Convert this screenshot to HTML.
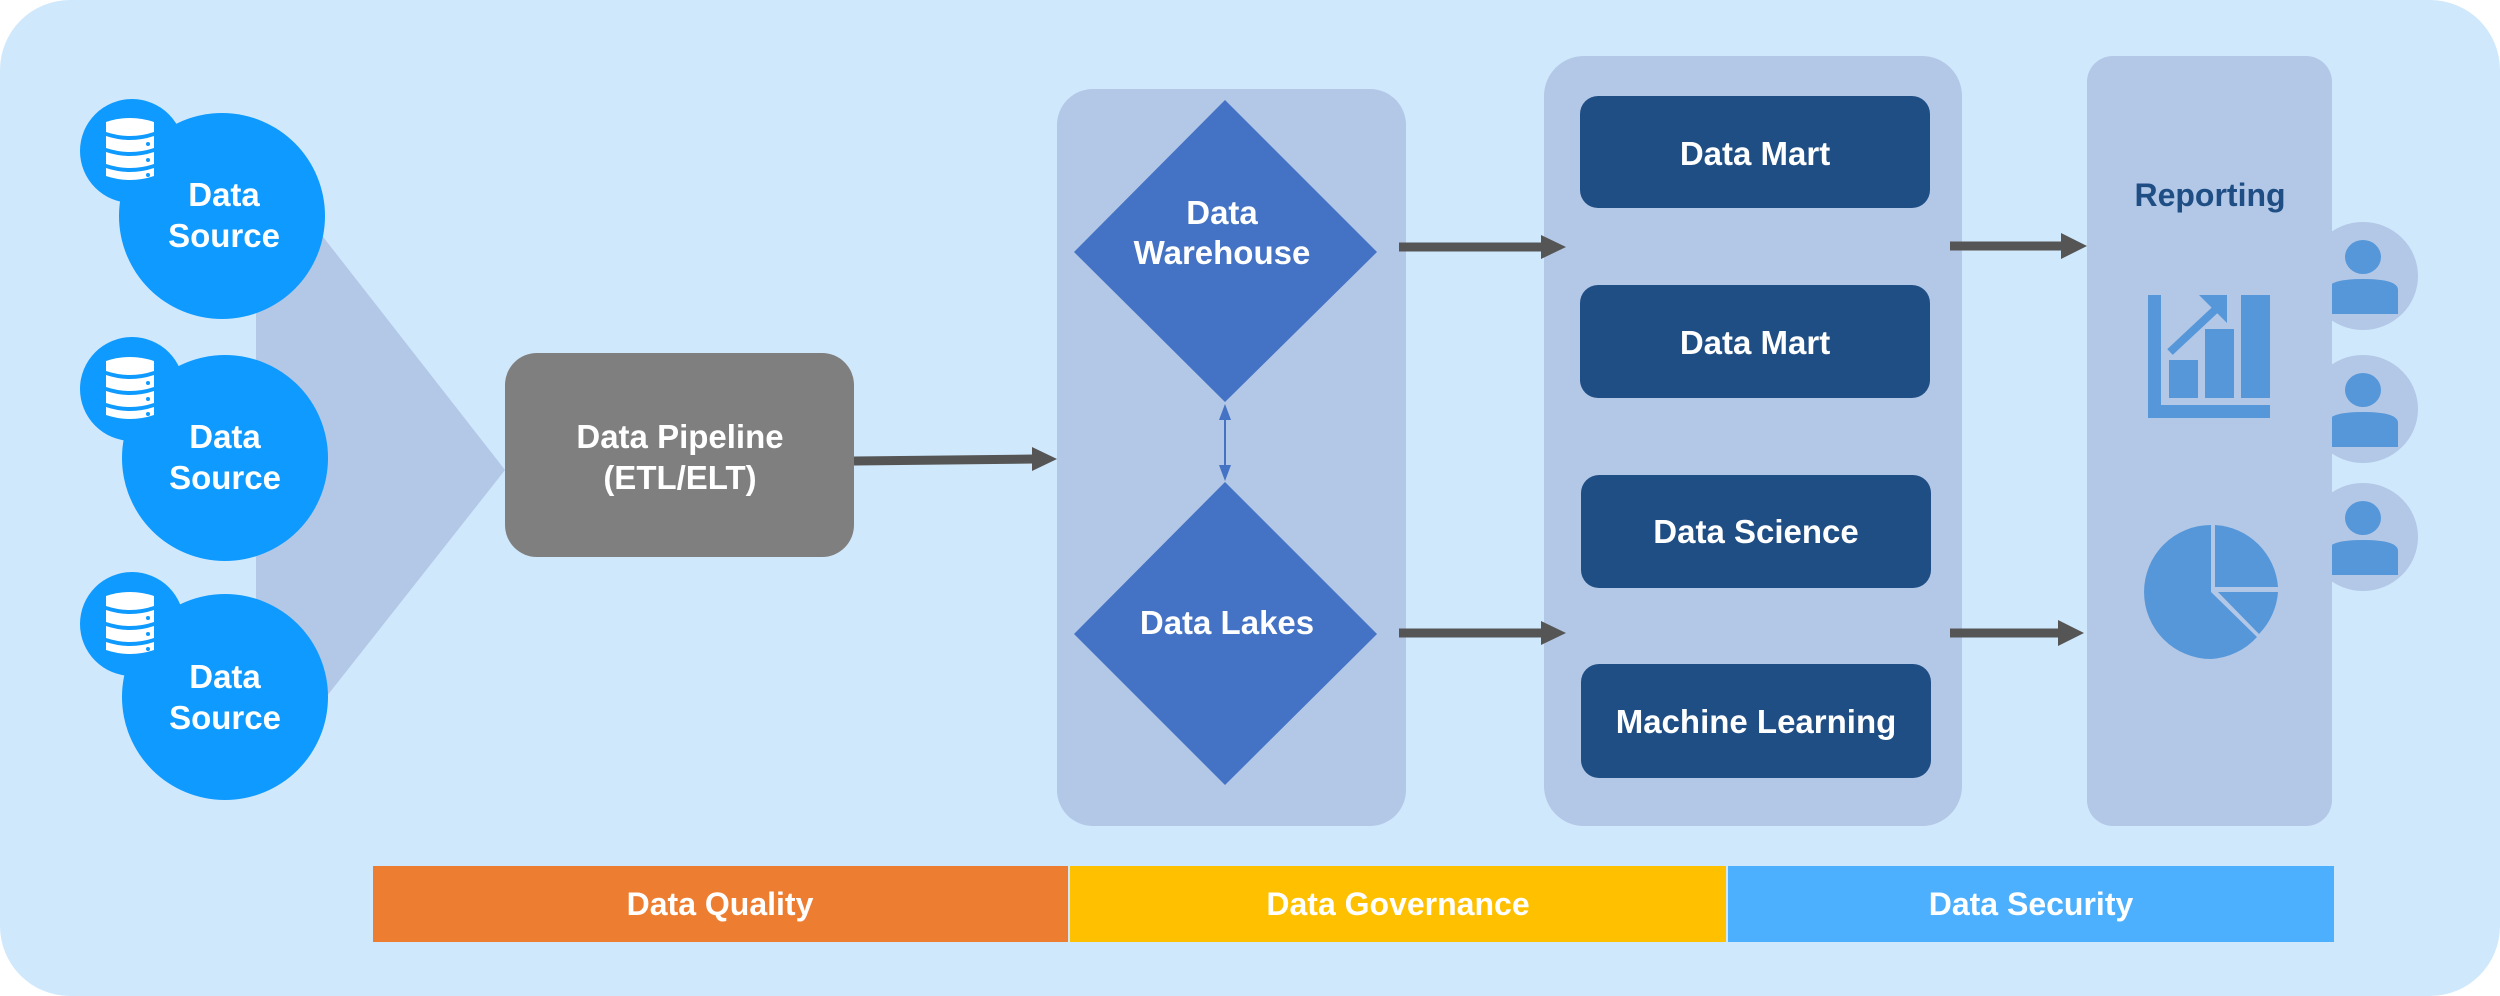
<!DOCTYPE html>
<html><head><meta charset="utf-8"><style>
html,body{margin:0;padding:0;background:#ffffff;}
svg{display:block;}
text{font-family:"Liberation Sans",sans-serif;font-weight:bold;fill:#fff;text-anchor:middle;}
</style></head><body>
<svg width="2500" height="996" viewBox="0 0 2500 996" xmlns="http://www.w3.org/2000/svg">
<defs>
<g id="db">
  <path d="M0 6 Q24 -2 48 6 L48 16 Q24 24 0 16 Z" fill="#fff"/>
  <path d="M0 20 Q24 28 48 20 L48 32 Q24 40 0 32 Z" fill="#fff"/>
  <path d="M0 36 Q24 44 48 36 L48 48 Q24 56 0 48 Z" fill="#fff"/>
  <path d="M0 52 Q24 60 48 52 L48 60 Q24 68 0 60 Z" fill="#fff"/>
  <circle cx="42" cy="28" r="2" fill="#0e9aff"/><circle cx="42" cy="44" r="2" fill="#0e9aff"/><circle cx="42" cy="59" r="2" fill="#0e9aff"/>
</g>
<g id="person">
  <ellipse cx="0" cy="0" rx="55" ry="54" fill="#b3c7e6"/>
  <ellipse cx="0" cy="-19" rx="18" ry="17" fill="#5597d9"/>
  <path d="M-35 38 L-35 14 Q-35 3 0 3 Q35 3 35 14 L35 38 Z" fill="#5597d9"/>
</g>
</defs>
<rect x="0" y="0" width="2500" height="996" rx="70" fill="#cfe8fc"/>

<!-- funnel -->
<polygon points="256,151 505,470 256,786" fill="#b3c7e6"/>

<!-- data sources -->
<g fill="#0e9aff">
  <circle cx="222" cy="216" r="103"/><circle cx="132" cy="151" r="52"/>
  <circle cx="225" cy="458" r="103"/><circle cx="132" cy="389" r="52"/>
  <circle cx="225" cy="697" r="103"/><circle cx="132" cy="624" r="52"/>
</g>
<use href="#db" x="106" y="116"/>
<use href="#db" x="106" y="355"/>
<use href="#db" x="106" y="590"/>
<g font-size="33">
<text x="224" y="206">Data</text><text x="224" y="247">Source</text>
<text x="225" y="448">Data</text><text x="225" y="489">Source</text>
<text x="225" y="688">Data</text><text x="225" y="729">Source</text>
</g>

<!-- pipeline -->
<rect x="505" y="353" width="349" height="204" rx="32" fill="#7f7f7f"/>
<text x="680" y="448" font-size="33">Data Pipeline</text>
<text x="680" y="489" font-size="33">(ETL/ELT)</text>
<line x1="854" y1="461" x2="1034" y2="459" stroke="#555" stroke-width="9"/>
<polygon points="1032,447 1057,459 1032,471" fill="#555"/>

<!-- warehouse panel -->
<rect x="1057" y="89" width="349" height="737" rx="36" fill="#b3c7e6"/>
<polygon points="1225,100 1377,252 1225,402 1074,252" fill="#4472c4"/>
<polygon points="1225,482 1377,634 1225,785 1074,634" fill="#4472c4"/>
<line x1="1225" y1="414" x2="1225" y2="470" stroke="#4472c4" stroke-width="2"/>
<polygon points="1225,404 1219,420 1231,420" fill="#4472c4"/>
<polygon points="1225,481 1219,465 1231,465" fill="#4472c4"/>
<text x="1222" y="224" font-size="33">Data</text>
<text x="1222" y="264" font-size="33">Warehouse</text>
<text x="1227" y="634" font-size="33">Data Lakes</text>

<!-- mart panel -->
<rect x="1544" y="56" width="418" height="770" rx="40" fill="#b3c7e6"/>
<g fill="#1f4e85">
<rect x="1580" y="96" width="350" height="112" rx="18"/>
<rect x="1580" y="285" width="350" height="113" rx="18"/>
<rect x="1581" y="475" width="350" height="113" rx="18"/>
<rect x="1581" y="664" width="350" height="114" rx="18"/>
</g>
<g font-size="33">
<text x="1755" y="165">Data Mart</text>
<text x="1755" y="354">Data Mart</text>
<text x="1756" y="543">Data Science</text>
<text x="1756" y="733">Machine Learning</text>
</g>

<!-- arrows to marts -->
<line x1="1399" y1="247" x2="1543" y2="247" stroke="#555" stroke-width="9"/>
<polygon points="1541,235 1566,247 1541,259" fill="#555"/>
<line x1="1399" y1="633" x2="1543" y2="633" stroke="#555" stroke-width="9"/>
<polygon points="1541,621 1566,633 1541,645" fill="#555"/>

<!-- persons (behind reporting panel) -->
<use href="#person" x="2363" y="276"/>
<use href="#person" x="2363" y="409"/>
<use href="#person" x="2363" y="537"/>

<!-- reporting panel -->
<rect x="2087" y="56" width="245" height="770" rx="26" fill="#b3c7e6"/>
<text x="2210" y="206" font-size="32" style="fill:#1f4e85">Reporting</text>
<!-- bar chart -->
<g fill="#5597d9">
<rect x="2148" y="295" width="13" height="123"/>
<rect x="2148" y="405" width="122" height="13"/>
<rect x="2169" y="360" width="29" height="38"/>
<rect x="2205" y="329" width="29" height="69"/>
<rect x="2241" y="295" width="29" height="103"/>
<polygon points="2199,295 2227,295 2227,323"/>
</g>
<line x1="2170" y1="352" x2="2216" y2="309" stroke="#5597d9" stroke-width="8"/>
<!-- pie -->
<path d="M2211 592 L2211 525 A67 67 0 0 0 2211 659 A67 67 0 0 0 2257 637 Z" fill="#5597d9"/>
<path d="M2215 587 L2215 525 A67 67 0 0 1 2278 587 Z" fill="#5597d9"/>
<path d="M2218 592 L2278 592 A67 67 0 0 1 2259 634 Z" fill="#5597d9"/>

<!-- arrows to reporting -->
<line x1="1950" y1="246" x2="2063" y2="246" stroke="#555" stroke-width="9"/>
<polygon points="2061,233 2087,246 2061,259" fill="#555"/>
<line x1="1950" y1="633" x2="2060" y2="633" stroke="#555" stroke-width="9"/>
<polygon points="2058,620 2084,633 2058,646" fill="#555"/>

<!-- bottom bars -->
<rect x="373" y="866" width="695" height="76" fill="#ed7d31"/>
<rect x="1070" y="866" width="656" height="76" fill="#ffc000"/>
<rect x="1728" y="866" width="606" height="76" fill="#4db0ff"/>
<g font-size="32">
<text x="720" y="915">Data Quality</text>
<text x="1398" y="915">Data Governance</text>
<text x="2031" y="915">Data Security</text>
</g>
</svg>
</body></html>
